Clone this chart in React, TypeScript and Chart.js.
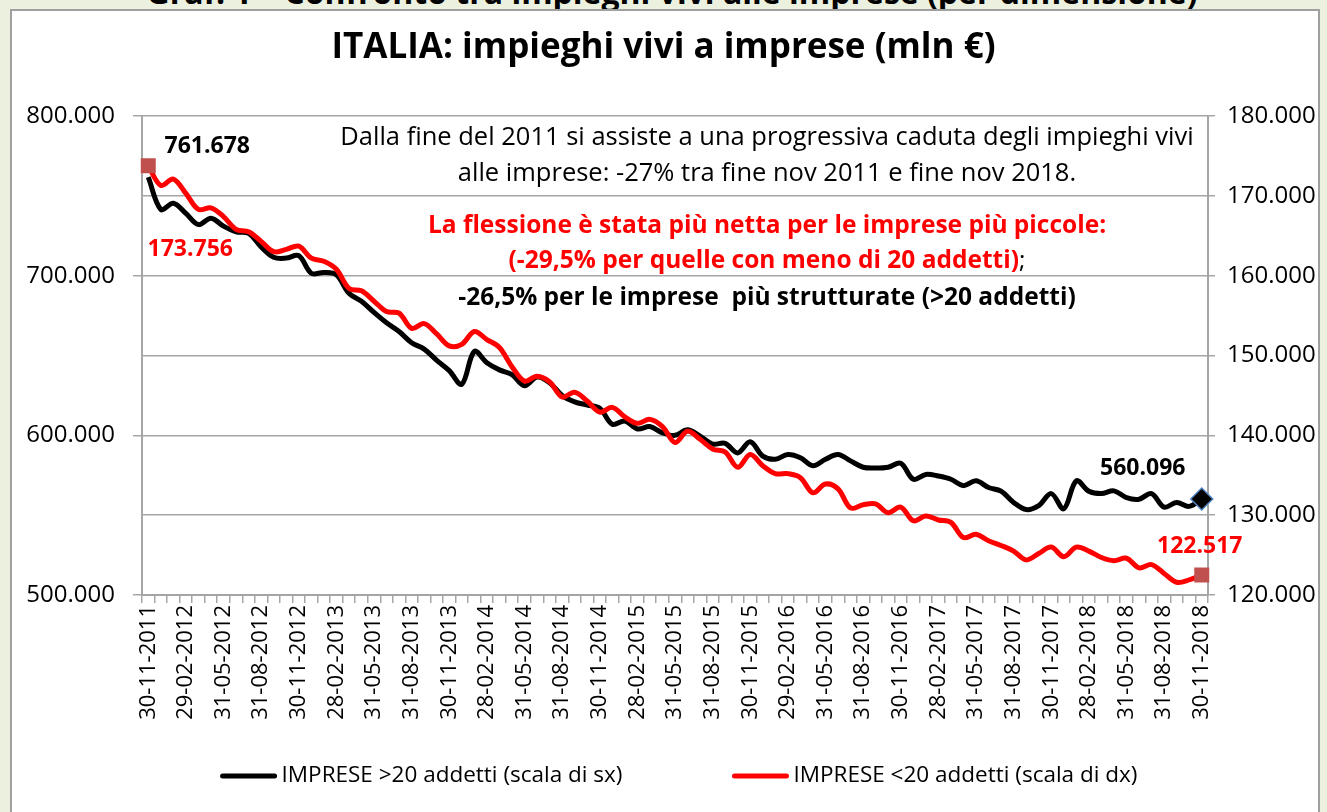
import React, { useEffect, useRef } from 'react';
import { Chart, registerables } from 'chart.js';

Chart.register(...registerables);

const FONT = "'Open Sans', 'Noto Sans', sans-serif";

const categories: string[] = [
  '30-11-2011', '31-12-2011',
  '31-01-2012', '29-02-2012', '31-03-2012', '30-04-2012', '31-05-2012', '30-06-2012', '31-07-2012', '31-08-2012', '30-09-2012', '31-10-2012', '30-11-2012', '31-12-2012',
  '31-01-2013', '28-02-2013', '31-03-2013', '30-04-2013', '31-05-2013', '30-06-2013', '31-07-2013', '31-08-2013', '30-09-2013', '31-10-2013', '30-11-2013', '31-12-2013',
  '31-01-2014', '28-02-2014', '31-03-2014', '30-04-2014', '31-05-2014', '30-06-2014', '31-07-2014', '31-08-2014', '30-09-2014', '31-10-2014', '30-11-2014', '31-12-2014',
  '31-01-2015', '28-02-2015', '31-03-2015', '30-04-2015', '31-05-2015', '30-06-2015', '31-07-2015', '31-08-2015', '30-09-2015', '31-10-2015', '30-11-2015', '31-12-2015',
  '31-01-2016', '29-02-2016', '31-03-2016', '30-04-2016', '31-05-2016', '30-06-2016', '31-07-2016', '31-08-2016', '30-09-2016', '31-10-2016', '30-11-2016', '31-12-2016',
  '31-01-2017', '28-02-2017', '31-03-2017', '30-04-2017', '31-05-2017', '30-06-2017', '31-07-2017', '31-08-2017', '30-09-2017', '31-10-2017', '30-11-2017', '31-12-2017',
  '31-01-2018', '28-02-2018', '31-03-2018', '30-04-2018', '31-05-2018', '30-06-2018', '31-07-2018', '31-08-2018', '30-09-2018', '31-10-2018', '30-11-2018',
];

// IMPRESE >20 addetti (mln €, left scale)
const impreseGrandi: number[] = [
  761678, 741500, 745400, 739000, 732000, 736000, 731000, 727500, 726500, 718000,
  711500, 711000, 712500, 701500, 702000, 700500, 689000, 684000, 677000, 670500,
  665000, 658000, 654000, 647000, 640500, 632000, 652500, 645500, 641000, 638000,
  631000, 636500, 633000, 625000, 621000, 619000, 617000, 607000, 609000, 604000,
  605500, 601500, 600000, 603500, 599500, 594500, 595000, 589000, 596000, 587000,
  585000, 588000, 586000, 581000, 585000, 588000, 584000, 580000, 579500, 580000,
  582500, 572500, 575500, 574500, 572500, 568500, 571500, 567300, 565000, 558000,
  553500, 556000, 563500, 554000, 571500, 565000, 563500, 565200, 561000, 560000,
  563500, 555000, 558000, 555500, 560096,
];

// IMPRESE <20 addetti (mln €, right scale)
const impresePiccole: number[] = [
  173756, 171300, 172100, 170300, 168300, 168500, 167400, 165800, 165500, 164300,
  163000, 163300, 163700, 162200, 161800, 160800, 158400, 158100, 156800, 155500,
  155300, 153400, 154000, 152700, 151200, 151400, 153000, 152000, 151000, 148600,
  146800, 147400, 146700, 144800, 145400, 144300, 142900, 143500, 142300, 141500,
  142000, 141100, 139100, 140500, 139500, 138300, 137900, 136000, 137600, 136200,
  135200, 135200, 134700, 132800, 133900, 133300, 130900, 131300, 131400, 130300,
  131000, 129300, 129900, 129400, 129100, 127200, 127600, 126800, 126200, 125500,
  124400, 125200, 126000, 124800, 126000, 125500, 124700, 124300, 124600, 123400,
  123800, 122700, 121600, 121900, 122517,
];

const leftTicks = { min: 500000, max: 800000, step: 50000, labelEvery: 100000 };
const rightTicks = { min: 120000, max: 180000, step: 10000 };

const seriesLabels = ['IMPRESE >20 addetti (scala di sx)', 'IMPRESE <20 addetti (scala di dx)'];
const chartTitle = 'ITALIA: impieghi vivi a imprese (mln €)';
const headerText = 'Graf. 1 – Confronto tra impieghi vivi alle imprese (per dimensione)';

const GRID = '#A6A6A6';

function fmt(v: number): string {
  const s = Math.round(v).toString();
  return s.replace(/\B(?=(\d{3})+(?!\d))/g, '.');
}

const last = categories.length - 1;

const endLabelsPlugin = {
  id: 'endLabels',
  afterDatasetsDraw(chart: any) {
    const ctx = chart.ctx;
    const items = [
      { ds: 0, idx: 0, color: '#000000', dx: 59, dy: -31 },
      { ds: 1, idx: 0, color: '#FF0000', dx: 42, dy: 84 },
      { ds: 0, idx: last, color: '#000000', dx: -59, dy: -31 },
      { ds: 1, idx: last, color: '#FF0000', dx: -2, dy: -28 },
    ];
    items.forEach((it) => {
      const meta = chart.getDatasetMeta(it.ds);
      const pt = meta.data[it.idx];
      if (!pt) return;
      const val = chart.data.datasets[it.ds].data[it.idx] as number;
      ctx.save();
      ctx.font = `bold 23px ${FONT}`;
      ctx.fillStyle = it.color;
      ctx.textAlign = 'center';
      ctx.textBaseline = 'middle';
      ctx.fillText(fmt(val), pt.x + it.dx, pt.y + it.dy);
      ctx.restore();
    });
  },
};

const bottomLegendPlugin = {
  id: 'bottomLegend',
  afterDraw(chart: any) {
    const ctx = chart.ctx;
    const cfg = { centerX: 679, y: 776, lineLen: 56, textGap: 5, itemGap: 110, size: 22.5 };
    ctx.save();
    ctx.font = `${cfg.size}px ${FONT}`;
    const ds = chart.data.datasets;
    const widths = ds.map((d: any) => cfg.lineLen + cfg.textGap + ctx.measureText(d.label).width);
    const total = widths.reduce((a: number, b: number) => a + b, 0) + cfg.itemGap * (ds.length - 1);
    let x = cfg.centerX - total / 2;
    ds.forEach((d: any, i: number) => {
      ctx.beginPath();
      ctx.strokeStyle = d.borderColor;
      ctx.lineWidth = 5;
      ctx.lineCap = 'round';
      ctx.moveTo(x + 2, cfg.y);
      ctx.lineTo(x + cfg.lineLen - 2, cfg.y);
      ctx.stroke();
      ctx.fillStyle = '#000000';
      ctx.textAlign = 'left';
      ctx.textBaseline = 'middle';
      ctx.fillText(d.label, x + cfg.lineLen + cfg.textGap, cfg.y);
      x += widths[i] + cfg.itemGap;
    });
    ctx.restore();
  },
};

export default function App() {
  const canvasRef = useRef<HTMLCanvasElement | null>(null);

  useEffect(() => {
    document.body.style.margin = '0';
    const canvas = canvasRef.current;
    if (!canvas) return;
    const chart = new Chart(canvas, {
      type: 'line',
      data: {
        labels: categories,
        datasets: [
          {
            label: seriesLabels[0],
            data: impreseGrandi,
            yAxisID: 'y',
            borderColor: '#000000',
            backgroundColor: '#000000',
            borderWidth: 5,
            tension: 0.35,
            order: 1,
            pointStyle: 'rectRot',
            pointRadius: (c: any) => (c.dataIndex === last ? 11 : 0),
            pointBackgroundColor: '#000000',
            pointBorderColor: '#4F81BD',
            pointBorderWidth: 1.5,
          },
          {
            label: seriesLabels[1],
            data: impresePiccole,
            yAxisID: 'y2',
            borderColor: '#FF0000',
            backgroundColor: '#FF0000',
            borderWidth: 5,
            tension: 0.35,
            order: 0,
            pointStyle: 'rect',
            pointRadius: (c: any) => (c.dataIndex === 0 || c.dataIndex === last ? 10.6 : 0),
            pointBackgroundColor: '#C0504D',
            pointBorderColor: '#C0504D',
            pointBorderWidth: 0,
          },
        ],
      },
      options: {
        responsive: false,
        animation: false,
        events: [],
        layout: { padding: { left: 0, right: 0, top: 0, bottom: 0 } },
        plugins: {
          title: {
            display: true,
            text: chartTitle,
            color: '#000000',
            font: { family: FONT, size: 35, weight: 'bold' },
            padding: { top: 27, bottom: 47 },
          },
          legend: { display: false },
          tooltip: { enabled: false },
        },
        scales: {
          x: {
            type: 'category',
            offset: true,
            afterFit: (s: any) => { s.height = 217; },
            grid: {
              offset: true,
              drawOnChartArea: false,
              drawTicks: true,
              tickLength: 8,
              color: GRID,
              lineWidth: 1.5,
            },
            border: { display: true, color: GRID, width: 2 },
            ticks: {
              autoSkip: false,
              minRotation: 90,
              maxRotation: 90,
              padding: 2,
              color: '#000000',
              font: { family: FONT, size: 22 },
              callback: (_v: any, i: number) => (i % 3 === 0 ? categories[i] : ''),
            },
          },
          y: {
            type: 'linear',
            position: 'left',
            min: leftTicks.min,
            max: leftTicks.max,
            afterFit: (s: any) => { s.width = 142; },
            grid: {
              color: GRID,
              lineWidth: 1.5,
              tickLength: 9,
              tickColor: (c: any) => (c.tick && c.tick.value % leftTicks.labelEvery === 0 ? GRID : 'rgba(0,0,0,0)'),
            },
            border: { display: true, color: GRID, width: 2 },
            ticks: {
              stepSize: leftTicks.step,
              padding: 18,
              color: '#000000',
              font: { family: FONT, size: 24 },
              callback: (v: any) => (Number(v) % leftTicks.labelEvery === 0 ? fmt(Number(v)) : ''),
            },
          },
          y2: {
            type: 'linear',
            position: 'right',
            min: rightTicks.min,
            max: rightTicks.max,
            afterFit: (s: any) => { s.width = 119; },
            grid: {
              drawOnChartArea: false,
              color: GRID,
              lineWidth: 1.5,
              tickLength: 7,
            },
            border: { display: true, color: GRID, width: 2 },
            ticks: {
              stepSize: rightTicks.step,
              padding: 12,
              color: '#000000',
              font: { family: FONT, size: 24 },
              callback: (v: any) => fmt(Number(v)),
            },
          },
        },
      },
      plugins: [endLabelsPlugin, bottomLegendPlugin],
    } as any);
    return () => chart.destroy();
  }, []);

  const note = (top: number, children: React.ReactNode, extra: React.CSSProperties = {}) => (
    <div
      style={{
        position: 'absolute',
        left: 267,
        width: 1000,
        top: top - 18,
        height: 36,
        lineHeight: '36px',
        textAlign: 'center',
        fontFamily: FONT,
        fontSize: 25.5,
        whiteSpace: 'pre',
        color: '#000',
        ...extra,
      }}
    >
      {children}
    </div>
  );

  return (
    <div style={{ position: 'relative', width: 1327, height: 812, overflow: 'hidden', background: '#EBF1DE' }}>
      <div
        style={{
          position: 'absolute',
          left: 17,
          top: -24,
          width: 1310,
          textAlign: 'center',
          fontFamily: FONT,
          fontWeight: 'bold',
          fontSize: 32,
          lineHeight: '32px',
          whiteSpace: 'nowrap',
          color: '#000',
        }}
      >
        {headerText}
      </div>
      <div
        style={{
          position: 'absolute',
          left: 10,
          top: 9,
          width: 1306,
          height: 830,
          background: '#FFFFFF',
          border: '2px solid #A0A0A0',
        }}
      />
      <canvas ref={canvasRef} width={1327} height={812} style={{ position: 'absolute', left: 0, top: 0 }} />
      {note(135, 'Dalla fine del 2011 si assiste a una progressiva caduta degli impieghi vivi')}
      {note(171, 'alle imprese: -27% tra fine nov 2011 e fine nov 2018.')}
      {note(224, 'La flessione è stata più netta per le imprese più piccole:', { color: '#FF0000', fontWeight: 'bold', fontSize: 24.5 })}
      {note(
        259,
        <>
          <span style={{ color: '#FF0000', fontWeight: 'bold' }}>(-29,5% per quelle con meno di 20 addetti)</span>
          <span style={{ color: '#000' }}>;</span>
        </>,
        { fontSize: 24.5 }
      )}
      {note(296, '-26,5% per le imprese  più strutturate (>20 addetti)', { fontWeight: 'bold', fontSize: 24.5 })}
    </div>
  );
}
